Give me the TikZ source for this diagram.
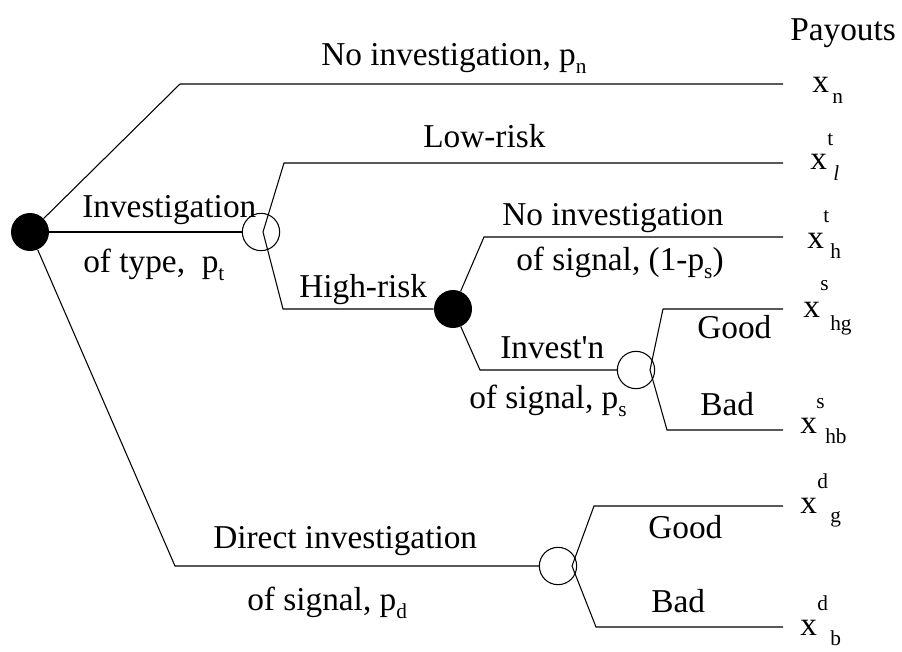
\documentclass[tikz,border=0pt]{standalone}
\usepackage{fontspec}
\setmainfont{Liberation Serif}
\newcommand{\mysub}[1]{{\fontsize{16}{16}\selectfont\raisebox{-6pt}{#1}}}
\begin{document}
\begin{tikzpicture}[x=0.75pt,y=-0.75pt,
  lbl/.style={anchor=base west,inner sep=0pt,font=\fontsize{25}{25}\selectfont},
  sml/.style={anchor=base west,inner sep=0pt,font=\fontsize{16}{16}\selectfont},
  chance/.style={circle,draw,line width=0.8pt,minimum size=28pt,inner sep=0pt},
  decision/.style={circle,fill=black,minimum size=28.5pt,inner sep=0pt},
  branch/.style={line width=0.8pt}]
\useasboundingbox (0,0) rectangle (902,651);

% nodes
\node[decision] (root) at (30,232) {};
\node[chance] (c1) at (261,232) {};
\node[decision] (c2) at (453,309) {};
\node[chance] (c3) at (636,370) {};
\node[chance] (c4) at (558,566) {};

% corner and end coordinates
\coordinate (k1) at (180,84);   \coordinate (e1) at (783,84);
\coordinate (k2) at (175,566);
\coordinate (c1o) at (263,232);
\coordinate (k3) at (284,163);  \coordinate (e2) at (783,163);
\coordinate (k4) at (283,309);
\coordinate (k5) at (484,237);  \coordinate (e3) at (783,237);
\coordinate (k6) at (480,370);
\coordinate (c3o) at (650,370);
\coordinate (k7) at (663,309);  \coordinate (e4) at (783,309);
\coordinate (k8) at (667,430);  \coordinate (e5) at (783,430);
\coordinate (c4o) at (572,566);
\coordinate (k9) at (594,506);  \coordinate (e6) at (783,506);
\coordinate (k10) at (596,627); \coordinate (e7) at (783,627);

% connectors
\draw[branch] (root) -- (k1) -- (e1);
\draw[branch] (root) -- (c1);
\draw[branch] (root) -- (k2) -- (c4);
\draw[branch] (c1o) -- (k3) -- (e2);
\draw[branch] (c1o) -- (k4) -- (c2);
\draw[branch] (c2) -- (k5) -- (e3);
\draw[branch] (c2) -- (k6) -- (c3);
\draw[branch] (c3o) -- (k7) -- (e4);
\draw[branch] (c3o) -- (k8) -- (e5);
\draw[branch] (c4o) -- (k9) -- (e6);
\draw[branch] (c4o) -- (k10) -- (e7);

% branch labels
\node[lbl] (t1) at (321,65) {No investigation, p\mysub{n}};
\node[lbl] (t2) at (423,147) {Low-risk};
\node[lbl] (t3) at (82,217) {Investigation};
\node[lbl] (t4) at (83,272) {of type,\ \ p\mysub{t}};
\node[lbl] (t5) at (299,297) {High-risk};
\node[lbl] (t6) at (502,225) {No investigation};
\node[lbl] (t7) at (516,270) {of signal, (1-p\mysub{s})};
\node[lbl] (t8) at (500,358) {Invest\textquotesingle n};
\node[lbl] (t9) at (469,408) {of signal, p\mysub{s}};
\node[lbl] (t10) at (697,338) {Good};
\node[lbl] (t11) at (700,415) {Bad};
\node[lbl] (t12) at (213,548) {Direct investigation};
\node[lbl] (t13) at (247,610) {of signal, p\mysub{d}};
\node[lbl] (t14) at (648,538) {Good};
\node[lbl] (t15) at (651,612) {Bad};
\node[lbl] (pay) at (790,40) {Payouts};

% payouts
\node[lbl] (x1) at (812,92) {x};
\node[sml] (x1b) at (832,103) {n};
\node[lbl] (x2) at (810,169) {x};
\node[sml] (x2a) at (827,145) {t};
\node[sml] (x2b) at (833,180) {\textit{l}};
\node[lbl] (x3) at (807,248) {x};
\node[sml] (x3a) at (823,222) {t};
\node[sml] (x3b) at (830,258) {h};
\node[lbl] (x4) at (803,317) {x};
\node[sml] (x4a) at (820,290) {s};
\node[sml] (x4b) at (830,330) {hg};
\node[lbl] (x5) at (800,433) {x};
\node[sml] (x5a) at (816,408) {s};
\node[sml] (x5b) at (825,443) {hb};
\node[lbl] (x6) at (800,513) {x};
\node[sml] (x6a) at (817,488) {d};
\node[sml] (x6b) at (830,522) {g};
\node[lbl] (x7) at (800,635) {x};
\node[sml] (x7a) at (817,610) {d};
\node[sml] (x7b) at (830,645) {b};
\end{tikzpicture}
\end{document}
